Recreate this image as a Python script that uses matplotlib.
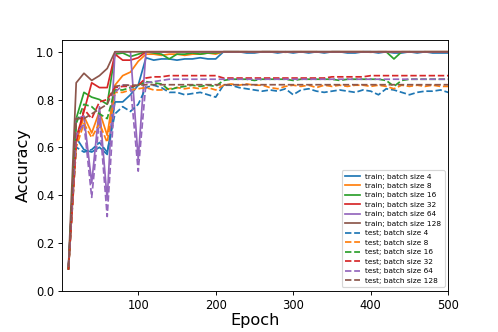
import numpy as np
import matplotlib
matplotlib.use("Agg")
import matplotlib.pyplot as plt

epochs = np.arange(10, 501, 10)
batch_sizes = [4, 8, 16, 32, 64, 128]

train_bs4 = [0.09, 0.64, 0.59, 0.58, 0.60, 0.57, 0.79, 0.79, 0.82, 0.86,
             0.975, 0.965, 0.97, 0.97, 0.965, 0.97, 0.97, 0.975, 0.97, 0.97,
             1.0, 1.0, 1.0, 0.995, 0.995, 1.0, 1.0, 0.995, 1.0, 0.995,
             1.0, 0.995, 1.0, 0.995, 1.0, 1.0, 0.995, 0.995, 1.0, 1.0,
             0.995, 1.0, 0.995, 0.995, 1.0, 0.995, 1.0, 0.995, 0.995, 0.995]
train_bs8 = [0.09, 0.62, 0.73, 0.66, 0.75, 0.65, 0.86, 0.90, 0.915, 0.96,
             0.99, 0.99, 0.985, 0.99, 0.99, 0.985, 0.99, 0.99, 0.995, 0.99,
             1.0, 1.0, 1.0, 1.0, 0.998, 1.0, 1.0, 1.0, 0.998, 1.0,
             1.0, 1.0, 1.0, 0.998, 1.0, 1.0, 1.0, 1.0, 1.0, 0.998,
             1.0, 1.0, 1.0, 1.0, 1.0, 0.998, 1.0, 1.0, 1.0, 1.0]
train_bs16 = [0.09, 0.72, 0.83, 0.81, 0.80, 0.78, 0.99, 0.995, 0.98, 0.99,
              1.0, 0.995, 0.99, 0.97, 0.99, 0.99, 0.995, 0.99, 0.995, 0.995,
              1.0, 1.0, 1.0, 1.0, 1.0, 1.0, 1.0, 1.0, 1.0, 1.0,
              1.0, 1.0, 1.0, 1.0, 1.0, 1.0, 1.0, 1.0, 1.0, 1.0,
              1.0, 1.0, 0.97, 1.0, 1.0, 1.0, 1.0, 1.0, 1.0, 1.0]
train_bs32 = [0.09, 0.64, 0.75, 0.87, 0.85, 0.85, 0.99, 0.965, 0.965, 0.975,
              1.0, 1.0, 1.0, 1.0, 1.0, 1.0, 1.0, 1.0, 1.0, 1.0,
              1.0, 1.0, 1.0, 1.0, 1.0, 1.0, 1.0, 1.0, 1.0, 1.0,
              1.0, 1.0, 1.0, 1.0, 1.0, 1.0, 1.0, 1.0, 1.0, 1.0,
              1.0, 1.0, 1.0, 1.0, 1.0, 1.0, 1.0, 1.0, 1.0, 1.0]
train_bs64 = [0.10, 0.72, 0.73, 0.45, 0.77, 0.38, 1.0, 1.0, 1.0, 0.55,
              1.0, 1.0, 1.0, 1.0, 1.0, 1.0, 1.0, 1.0, 1.0, 1.0,
              1.0, 1.0, 1.0, 1.0, 1.0, 1.0, 1.0, 1.0, 1.0, 1.0,
              1.0, 1.0, 1.0, 1.0, 1.0, 1.0, 1.0, 1.0, 1.0, 1.0,
              1.0, 1.0, 1.0, 1.0, 1.0, 1.0, 1.0, 1.0, 1.0, 1.0]
train_bs128 = [0.10, 0.87, 0.91, 0.88, 0.90, 0.93, 1.0, 1.0, 1.0, 1.0,
               1.0, 1.0, 1.0, 1.0, 1.0, 1.0, 1.0, 1.0, 1.0, 1.0,
               1.0, 1.0, 1.0, 1.0, 1.0, 1.0, 1.0, 1.0, 1.0, 1.0,
               1.0, 1.0, 1.0, 1.0, 1.0, 1.0, 1.0, 1.0, 1.0, 1.0,
               1.0, 1.0, 1.0, 1.0, 1.0, 1.0, 1.0, 1.0, 1.0, 1.0]

test_bs4 = [0.09, 0.60, 0.58, 0.59, 0.62, 0.58, 0.74, 0.77, 0.75, 0.78,
            0.85, 0.86, 0.85, 0.83, 0.83, 0.82, 0.825, 0.83, 0.82, 0.81,
            0.86, 0.86, 0.85, 0.845, 0.84, 0.835, 0.84, 0.835, 0.845, 0.82,
            0.84, 0.845, 0.835, 0.83, 0.835, 0.84, 0.835, 0.83, 0.84, 0.835,
            0.82, 0.845, 0.84, 0.83, 0.82, 0.83, 0.835, 0.835, 0.84, 0.83]
test_bs8 = [0.09, 0.60, 0.70, 0.64, 0.70, 0.62, 0.83, 0.83, 0.84, 0.845,
            0.85, 0.84, 0.84, 0.845, 0.85, 0.845, 0.85, 0.845, 0.85, 0.84,
            0.86, 0.865, 0.86, 0.865, 0.86, 0.86, 0.85, 0.845, 0.855, 0.86,
            0.855, 0.86, 0.85, 0.86, 0.855, 0.86, 0.855, 0.86, 0.86, 0.855,
            0.86, 0.855, 0.845, 0.86, 0.855, 0.86, 0.855, 0.86, 0.855, 0.855]
test_bs16 = [0.09, 0.70, 0.78, 0.77, 0.74, 0.72, 0.84, 0.84, 0.85, 0.86,
             0.875, 0.87, 0.865, 0.84, 0.85, 0.855, 0.86, 0.855, 0.86, 0.855,
             0.88, 0.885, 0.885, 0.885, 0.88, 0.885, 0.885, 0.885, 0.885, 0.88,
             0.885, 0.885, 0.885, 0.885, 0.885, 0.88, 0.885, 0.885, 0.885, 0.885,
             0.885, 0.88, 0.855, 0.88, 0.885, 0.885, 0.885, 0.885, 0.885, 0.885]
test_bs32 = [0.09, 0.62, 0.76, 0.72, 0.79, 0.80, 0.85, 0.855, 0.855, 0.86,
             0.89, 0.895, 0.895, 0.90, 0.90, 0.90, 0.90, 0.90, 0.90, 0.90,
             0.89, 0.89, 0.89, 0.89, 0.89, 0.89, 0.89, 0.89, 0.89, 0.89,
             0.89, 0.89, 0.89, 0.89, 0.895, 0.895, 0.895, 0.895, 0.895, 0.90,
             0.90, 0.90, 0.90, 0.90, 0.90, 0.90, 0.90, 0.90, 0.90, 0.90]
test_bs64 = [0.10, 0.65, 0.70, 0.39, 0.72, 0.31, 0.83, 0.86, 0.86, 0.50,
             0.87, 0.875, 0.88, 0.885, 0.885, 0.885, 0.885, 0.885, 0.885, 0.885,
             0.885, 0.885, 0.885, 0.885, 0.885, 0.885, 0.885, 0.885, 0.885, 0.885,
             0.885, 0.885, 0.885, 0.885, 0.885, 0.885, 0.885, 0.885, 0.885, 0.885,
             0.885, 0.885, 0.885, 0.885, 0.885, 0.885, 0.885, 0.885, 0.885, 0.885]
test_bs128 = [0.10, 0.72, 0.72, 0.74, 0.76, 0.78, 0.855, 0.86, 0.86, 0.86,
              0.862, 0.862, 0.862, 0.862, 0.862, 0.862, 0.862, 0.862, 0.862, 0.862,
              0.862, 0.862, 0.862, 0.862, 0.862, 0.862, 0.862, 0.862, 0.862, 0.862,
              0.862, 0.862, 0.862, 0.862, 0.862, 0.862, 0.862, 0.862, 0.862, 0.862,
              0.862, 0.862, 0.862, 0.862, 0.862, 0.862, 0.862, 0.862, 0.862, 0.862]

train_series = [train_bs4, train_bs8, train_bs16, train_bs32, train_bs64, train_bs128]
test_series = [test_bs4, test_bs8, test_bs16, test_bs32, test_bs64, test_bs128]
colors = ['#1f77b4', '#ff7f0e', '#2ca02c', '#d62728', '#9467bd', '#8c564b']

fig = plt.figure(figsize=(6, 4), dpi=83)
ax = fig.add_axes([0.125, 0.125, 0.775, 0.755])

for bs, ys, c in zip(batch_sizes, train_series, colors):
    ax.plot(epochs, ys, color=c, lw=1.5, label=f'train; batch size {bs}')
for bs, ys, c in zip(batch_sizes, test_series, colors):
    ax.plot(epochs, ys, color=c, lw=1.5, ls='--', label=f'test; batch size {bs}')

ax.set_xlim(2, 500)
ax.set_ylim(0, 1.05)
ax.set_xticks([100, 200, 300, 400, 500])
ax.set_yticks([0.0, 0.2, 0.4, 0.6, 0.8, 1.0])
ax.tick_params(labelsize=10)
ax.set_xlabel('Epoch', fontsize=14, labelpad=1)
ax.set_ylabel('Accuracy', fontsize=14)
ax.legend(loc='lower right', fontsize=6.4, framealpha=0.8,
          labelspacing=0.45, borderpad=0.4, handlelength=2.0)

fig.savefig('out.png', dpi=83)
